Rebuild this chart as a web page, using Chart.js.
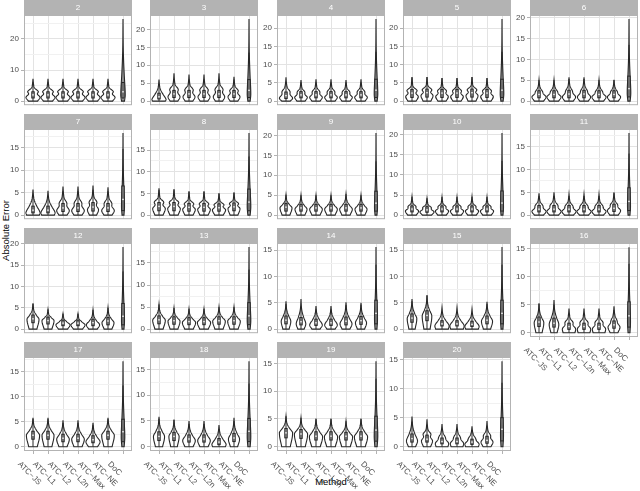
<!DOCTYPE html>
<html>
<head>
<meta charset="utf-8">
<script src="https://cdn.jsdelivr.net/npm/chart.js@4/dist/chart.umd.min.js"></script>
<style>
  body { margin: 0; background: #fff; }
  #wrap { position: relative; width: 640px; height: 491px; overflow: hidden; font-family: 'Liberation Sans', Arial, sans-serif; }
  #wrap canvas { position: absolute; }
  .ttl { position: absolute; font-size: 9.5px; line-height: 11px; color: #000; white-space: nowrap; }
</style>
</head>
<body>
<div id="wrap">
  <div class="ttl" style="left:301px;top:476px;width:60px;text-align:center;">Method</div>
  <div class="ttl" style="left:-35px;top:225px;width:80px;text-align:center;transform:rotate(-90deg);">Absolute Error</div>
</div>
<script>
// facets and methods
var panelIds = ['2', '3', '4', '5', '6', '7', '8', '9', '10', '11', '12', '13', '14', '15', '16', '17', '18', '19', '20'];
var methods = ['ATC\u2212JS', 'ATC\u2212L1', 'ATC\u2212L2', 'ATC\u2212L2n', 'ATC\u2212Max', 'ATC\u2212NE', 'DoC'];

// top of each violin (max abs error), one row per facet
var tops = [
  [7.2, 7.2, 7.2, 7.2, 7.2, 7.2, 26.4],
  [6.0, 7.8, 7.4, 7.4, 7.8, 6.8, 22.9],
  [6.5, 5.8, 6.0, 6.0, 5.8, 6.0, 22.5],
  [6.6, 6.6, 6.3, 6.3, 6.6, 6.3, 22.5],
  [5.1, 5.1, 5.7, 5.7, 5.1, 5.1, 19.7],
  [5.7, 5.4, 6.4, 6.4, 6.6, 6.2, 18.3],
  [6.2, 6.0, 5.5, 5.5, 5.0, 5.2, 18.9],
  [5.1, 5.0, 5.0, 5.0, 5.3, 5.0, 20.6],
  [4.6, 4.2, 4.5, 4.5, 4.6, 4.5, 20.4],
  [4.8, 5.0, 4.6, 4.6, 4.6, 5.0, 18.0],
  [6.0, 4.6, 3.6, 3.6, 4.5, 5.0, 19.2],
  [5.6, 4.8, 4.6, 4.6, 5.0, 5.0, 18.6],
  [5.3, 5.7, 4.4, 4.4, 5.1, 5.0, 15.6],
  [5.7, 6.5, 4.1, 4.1, 3.8, 5.2, 15.6],
  [5.2, 5.8, 4.3, 4.3, 4.3, 4.7, 15.2],
  [5.8, 5.8, 5.3, 5.3, 4.8, 5.8, 17.1],
  [5.8, 5.3, 5.0, 5.0, 4.2, 5.6, 16.6],
  [5.5, 5.2, 5.1, 5.1, 4.6, 5.1, 15.4],
  [5.2, 4.7, 3.9, 3.9, 3.5, 4.4, 14.7]
];

// where each violin is widest
var modes = [
  [1.2, 1.2, 1.2, 1.2, 1.2, 1.2, 2.0],
  [0.5, 1.2, 1.2, 1.2, 1.2, 1.2, 2.0],
  [0.8, 1.0, 1.0, 1.0, 1.0, 1.0, 2.0],
  [1.2, 1.5, 1.2, 1.2, 1.5, 1.2, 2.0],
  [1.0, 1.0, 1.0, 1.0, 1.0, 1.0, 2.0],
  [0.6, 0.6, 1.0, 1.0, 1.2, 1.0, 2.0],
  [1.5, 1.5, 1.3, 1.3, 1.2, 1.5, 2.0],
  [1.8, 1.5, 1.5, 1.5, 1.5, 1.5, 2.0],
  [1.0, 0.8, 1.0, 1.0, 1.0, 1.0, 2.0],
  [0.8, 0.8, 0.8, 0.8, 0.8, 1.0, 2.0],
  [2.3, 2.0, 1.0, 1.0, 1.0, 1.5, 2.0],
  [2.0, 1.8, 1.5, 1.5, 1.8, 1.8, 2.0],
  [1.5, 1.0, 0.8, 0.8, 1.0, 1.2, 2.0],
  [2.0, 2.5, 0.7, 0.7, 0.6, 1.5, 2.0],
  [1.8, 1.5, 0.7, 0.7, 0.7, 1.0, 2.0],
  [2.3, 2.3, 1.5, 1.5, 1.0, 2.3, 2.0],
  [2.0, 2.0, 1.2, 1.2, 0.5, 1.5, 2.0],
  [2.5, 2.3, 1.8, 1.8, 1.8, 1.8, 2.0],
  [1.0, 1.0, 0.6, 0.6, 0.5, 0.8, 2.0]
];

// half width at the widest point, in category units
var halfWidths = [
  [0.47, 0.47, 0.47, 0.47, 0.47, 0.47, 0.15],
  [0.47, 0.4, 0.4, 0.4, 0.38, 0.4, 0.12],
  [0.44, 0.42, 0.42, 0.42, 0.42, 0.42, 0.12],
  [0.42, 0.4, 0.42, 0.42, 0.4, 0.42, 0.12],
  [0.47, 0.47, 0.44, 0.44, 0.47, 0.44, 0.12],
  [0.47, 0.47, 0.42, 0.42, 0.37, 0.42, 0.10],
  [0.42, 0.42, 0.42, 0.42, 0.44, 0.4, 0.12],
  [0.4, 0.4, 0.42, 0.42, 0.42, 0.4, 0.10],
  [0.44, 0.47, 0.44, 0.44, 0.44, 0.44, 0.10],
  [0.47, 0.47, 0.47, 0.47, 0.47, 0.44, 0.10],
  [0.4, 0.4, 0.47, 0.47, 0.44, 0.4, 0.10],
  [0.42, 0.4, 0.44, 0.44, 0.42, 0.42, 0.12],
  [0.32, 0.32, 0.42, 0.42, 0.4, 0.37, 0.10],
  [0.32, 0.32, 0.47, 0.47, 0.47, 0.37, 0.10],
  [0.32, 0.32, 0.44, 0.44, 0.44, 0.4, 0.10],
  [0.44, 0.4, 0.42, 0.42, 0.47, 0.42, 0.12],
  [0.37, 0.34, 0.42, 0.42, 0.47, 0.37, 0.12],
  [0.44, 0.44, 0.44, 0.44, 0.44, 0.44, 0.12],
  [0.37, 0.37, 0.44, 0.44, 0.47, 0.4, 0.10]
];

// relative width of the second bulge (0 = none)
var shoulders = [
  [0.75, 0.75, 0.75, 0.75, 0.75, 0.75, 0],
  [0, 0.7, 0.7, 0.7, 0.7, 0.7, 0],
  [0.6, 0.6, 0.6, 0.6, 0.6, 0.6, 0],
  [0.8, 0.8, 0.7, 0.7, 0.8, 0.7, 0],
  [0.5, 0.5, 0.5, 0.5, 0.5, 0.5, 0],
  [0, 0, 0.6, 0.6, 0.7, 0.6, 0],
  [0.75, 0.75, 0.75, 0.75, 0.75, 0.75, 0],
  [0, 0, 0, 0, 0, 0, 0],
  [0.6, 0.6, 0.6, 0.6, 0.6, 0.6, 0],
  [0.55, 0.55, 0.55, 0.55, 0.55, 0.55, 0],
  [0, 0, 0, 0, 0, 0, 0],
  [0, 0, 0, 0, 0, 0, 0],
  [0, 0, 0, 0, 0, 0, 0],
  [0, 0, 0, 0, 0, 0, 0],
  [0, 0, 0.6, 0.6, 0.6, 0.5, 0],
  [0, 0, 0, 0, 0, 0, 0],
  [0, 0, 0, 0, 0, 0, 0],
  [0, 0, 0, 0, 0, 0, 0],
  [0, 0.7, 0.5, 0.5, 0.5, 0.6, 0]
];

// box plot quartiles
var lowerQ = [
  [1.0, 1.0, 1.0, 1.0, 1.0, 1.0, 1.0],
  [0.6, 1.0, 1.0, 1.0, 1.0, 1.0, 1.0],
  [0.7, 0.9, 0.9, 0.9, 0.9, 0.9, 1.0],
  [1.0, 1.1, 1.0, 1.0, 1.1, 1.0, 1.0],
  [0.8, 0.8, 0.8, 0.8, 0.8, 0.8, 1.0],
  [0.5, 0.5, 0.8, 0.8, 0.9, 0.8, 1.0],
  [1.0, 1.0, 0.9, 0.9, 0.9, 1.0, 1.0],
  [1.0, 1.0, 1.0, 1.0, 1.0, 1.0, 1.0],
  [0.8, 0.7, 0.8, 0.8, 0.8, 0.8, 1.0],
  [0.7, 0.7, 0.7, 0.7, 0.7, 0.8, 1.0],
  [1.5, 1.2, 0.8, 0.8, 0.8, 1.0, 1.0],
  [1.2, 1.1, 1.0, 1.0, 1.1, 1.1, 1.0],
  [1.0, 0.8, 0.7, 0.7, 0.8, 0.9, 1.0],
  [1.3, 1.6, 0.6, 0.6, 0.5, 1.0, 1.0],
  [1.1, 1.0, 0.6, 0.6, 0.6, 0.8, 1.0],
  [1.5, 1.5, 1.0, 1.0, 0.8, 1.5, 1.0],
  [1.2, 1.2, 0.9, 0.9, 0.4, 1.0, 1.0],
  [1.6, 1.5, 1.2, 1.2, 1.2, 1.2, 1.0],
  [0.8, 0.8, 0.5, 0.5, 0.4, 0.6, 1.0]
];
var medians = [
  [2.0, 2.0, 2.0, 2.0, 2.0, 2.0, 3.0],
  [1.2, 2.0, 2.0, 2.0, 2.0, 2.0, 3.0],
  [1.5, 1.7, 1.7, 1.7, 1.7, 1.7, 3.0],
  [2.2, 2.3, 2.2, 2.2, 2.3, 2.2, 3.0],
  [1.6, 1.6, 1.7, 1.7, 1.6, 1.6, 3.0],
  [1.1, 1.1, 1.6, 1.6, 1.8, 1.6, 3.5],
  [2.0, 2.0, 1.8, 1.8, 1.7, 1.9, 3.0],
  [2.0, 1.8, 1.8, 1.8, 1.8, 1.8, 3.0],
  [1.5, 1.3, 1.5, 1.5, 1.5, 1.5, 3.0],
  [1.3, 1.3, 1.3, 1.3, 1.3, 1.5, 3.0],
  [2.4, 2.0, 1.4, 1.4, 1.5, 1.9, 3.0],
  [2.1, 1.9, 1.7, 1.7, 1.9, 1.9, 3.0],
  [1.7, 1.4, 1.2, 1.2, 1.5, 1.6, 3.0],
  [2.1, 2.6, 1.0, 1.0, 0.9, 1.7, 3.0],
  [1.9, 1.7, 1.1, 1.1, 1.1, 1.4, 3.0],
  [2.3, 2.3, 1.7, 1.7, 1.4, 2.3, 3.0],
  [2.0, 2.0, 1.5, 1.5, 0.9, 1.7, 3.0],
  [2.5, 2.3, 1.9, 1.9, 1.9, 1.9, 3.0],
  [1.4, 1.3, 0.9, 0.9, 0.8, 1.1, 3.0]
];
var upperQ = [
  [3.0, 3.0, 3.0, 3.0, 3.0, 3.0, 6.0],
  [2.2, 3.0, 3.0, 3.0, 3.0, 3.0, 6.0],
  [2.5, 2.6, 2.6, 2.6, 2.6, 2.6, 6.0],
  [3.2, 3.3, 3.2, 3.2, 3.3, 3.2, 6.0],
  [2.5, 2.5, 2.6, 2.6, 2.5, 2.5, 6.0],
  [2.0, 2.0, 2.6, 2.6, 2.8, 2.6, 6.5],
  [2.9, 2.9, 2.7, 2.7, 2.6, 2.8, 6.0],
  [2.9, 2.7, 2.7, 2.7, 2.7, 2.7, 6.0],
  [2.3, 2.1, 2.3, 2.3, 2.3, 2.3, 6.0],
  [2.1, 2.1, 2.1, 2.1, 2.1, 2.4, 6.0],
  [3.3, 2.8, 2.1, 2.1, 2.3, 2.7, 6.0],
  [3.0, 2.8, 2.6, 2.6, 2.8, 2.8, 6.0],
  [2.5, 2.2, 1.9, 1.9, 2.3, 2.4, 5.5],
  [2.9, 3.5, 1.6, 1.6, 1.5, 2.5, 5.5],
  [2.8, 2.6, 1.7, 1.7, 1.7, 2.1, 5.5],
  [3.1, 3.1, 2.5, 2.5, 2.2, 3.1, 5.5],
  [2.9, 2.8, 2.3, 2.3, 1.6, 2.6, 5.5],
  [3.3, 3.1, 2.7, 2.7, 2.6, 2.7, 5.5],
  [2.2, 2.0, 1.5, 1.5, 1.3, 1.8, 5.0]
];

var colLeft = [24, 150, 277, 403, 530];
var rowTop = [0, 114, 228, 342];
var panelW = 108;

function violinKnots(top, mode, w, shoulder) {
  var base = mode < 0.8 ? 0.9 : 0.65;
  var d = top - mode;
  var k = [[0, w * base], [mode, w]];
  if (shoulder > 0) {
    k.push([mode + 0.18 * d, 0.62 * w], [mode + 0.32 * d, shoulder * w], [mode + 0.5 * d, 0.22 * w], [mode + 0.7 * d, 0.08 * w]);
  } else {
    k.push([mode + 0.25 * d, 0.58 * w], [mode + 0.45 * d, 0.27 * w], [mode + 0.65 * d, 0.1 * w]);
  }
  k.push([top, 0]);
  return k;
}

// smooth the knots (cubic hermite) into an outline
function profile(k) {
  var pts = [];
  for (var i = 0; i < k.length - 1; i++) {
    var p0 = k[Math.max(i - 1, 0)], p1 = k[i], p2 = k[i + 1], p3 = k[Math.min(i + 2, k.length - 1)];
    var dy = p2[0] - p1[0];
    var m1 = (p2[1] - p0[1]) / (p2[0] - p0[0]) * dy;
    var m2 = (p3[1] - p1[1]) / (p3[0] - p1[0]) * dy;
    for (var s = 0; s < 8; s++) {
      var t = s / 8, t2 = t * t, t3 = t2 * t;
      var h = (2 * t3 - 3 * t2 + 1) * p1[1] + (t3 - 2 * t2 + t) * m1 + (-2 * t3 + 3 * t2) * p2[1] + (t3 - t2) * m2;
      pts.push([p1[0] + t * dy, Math.max(h, 0)]);
    }
  }
  pts.push(k[k.length - 1]);
  return pts;
}

var facetPlugin = {
  id: 'facet',
  afterDatasetsDraw: function (chart, args, opts) {
    var p = opts.panel;
    var ctx = chart.ctx, area = chart.chartArea;
    var xs = chart.scales.x, ys = chart.scales.y;
    var unit = xs.getPixelForValue(2) - xs.getPixelForValue(1);
    var pts = chart.data.datasets[0].data;

    ctx.save();
    for (var j = 0; j < pts.length; j++) {
      var xc = xs.getPixelForValue(pts[j].x);
      var outline = profile(violinKnots(pts[j].y, modes[p][j], halfWidths[p][j], shoulders[p][j]));
      ctx.beginPath();
      outline.forEach(function (q, n) {
        var px = xc + q[1] * unit, py = ys.getPixelForValue(q[0]);
        if (n === 0) ctx.moveTo(px, py); else ctx.lineTo(px, py);
      });
      for (var n = outline.length - 1; n >= 0; n--) {
        ctx.lineTo(xc - outline[n][1] * unit, ys.getPixelForValue(outline[n][0]));
      }
      ctx.closePath();
      ctx.fillStyle = '#fff';
      ctx.fill();
      ctx.lineWidth = 1.1;
      ctx.strokeStyle = '#262626';
      ctx.stroke();

      // box plot inside
      var q1 = lowerQ[p][j], q2 = medians[p][j], q3 = upperQ[p][j];
      var wTop = Math.min(pts[j].y, q3 + 1.5 * (q3 - q1));
      ctx.lineWidth = 1;
      ctx.beginPath();
      ctx.moveTo(xc, ys.getPixelForValue(0));
      ctx.lineTo(xc, ys.getPixelForValue(wTop));
      ctx.stroke();
      var bw = 0.08 * unit;
      ctx.fillStyle = '#8a8a8a';
      ctx.fillRect(xc - bw, ys.getPixelForValue(q3), 2 * bw, ys.getPixelForValue(q1) - ys.getPixelForValue(q3));
      ctx.strokeRect(xc - bw, ys.getPixelForValue(q3), 2 * bw, ys.getPixelForValue(q1) - ys.getPixelForValue(q3));
      ctx.fillStyle = '#fff';
      ctx.fillRect(xc - 0.7, ys.getPixelForValue(q2) - 0.7, 1.4, 1.4);
    }

    // panel border and strip
    ctx.strokeStyle = '#b3b3b3';
    ctx.lineWidth = 1;
    ctx.strokeRect(area.left + 0.5, area.top + 0.5, area.right - area.left - 1, area.bottom - area.top - 1);
    ctx.fillStyle = '#b3b3b3';
    ctx.fillRect(area.left, area.top - 15, area.right - area.left, 15);
    ctx.fillStyle = '#fff';
    ctx.font = '8px "Liberation Sans", Arial, sans-serif';
    ctx.textAlign = 'center';
    ctx.textBaseline = 'middle';
    ctx.fillText(panelIds[p], (area.left + area.right) / 2, area.top - 7.5);

    // rotated method labels
    if (opts.labels) {
      ctx.fillStyle = '#4d4d4d';
      ctx.textAlign = 'left';
      for (var m = 0; m < methods.length; m++) {
        ctx.save();
        ctx.translate(xs.getPixelForValue(m + 1) - 14, area.bottom + 12);
        ctx.rotate(Math.PI / 4);
        ctx.fillText(methods[m], 0, 0);
        ctx.restore();
      }
    }
    ctx.restore();
  }
};

var wrap = document.getElementById('wrap');

panelIds.forEach(function (id, p) {
  var col = p % 5, row = Math.floor(p / 5);
  var withLabels = row === 3 || p === 14;
  var top = tops[p];
  var big = Math.max.apply(null, top);
  var major = big > 25 ? 10 : 5;
  var minor = major / 2;
  var yMin = -0.05 * big, yMax = big * 1.05;

  var canvas = document.createElement('canvas');
  canvas.width = 24 + panelW + 2;
  canvas.height = withLabels ? 150 : 112;
  canvas.style.left = (colLeft[col] - 24) + 'px';
  canvas.style.top = rowTop[row] + 'px';
  wrap.appendChild(canvas);

  new Chart(canvas.getContext('2d'), {
    type: 'scatter',
    data: {
      datasets: [{
        data: top.map(function (v, j) { return { x: j + 1, y: v }; }),
        pointRadius: 0,
        showLine: false
      }]
    },
    options: {
      responsive: false,
      animation: false,
      events: [],
      layout: { padding: { top: 15, right: 2, left: 0, bottom: 0 } },
      plugins: {
        legend: { display: false },
        tooltip: { enabled: false },
        facet: { panel: p, labels: withLabels }
      },
      scales: {
        x: {
          type: 'linear',
          min: 0.4,
          max: 7.6,
          afterBuildTicks: function (s) {
            s.ticks = methods.map(function (m, j) { return { value: j + 1 }; });
          },
          afterFit: function (s) { s.height = withLabels ? 41 : 3; },
          ticks: { display: false },
          border: { display: false },
          grid: { color: '#e3e3e3', lineWidth: 1, drawTicks: withLabels, tickLength: 3, tickColor: '#b3b3b3' }
        },
        y: {
          type: 'linear',
          min: yMin,
          max: yMax,
          afterBuildTicks: function (s) {
            var t = [];
            for (var v = 0; v <= yMax + 1e-9; v += minor) t.push({ value: v });
            s.ticks = t;
          },
          afterFit: function (s) { s.width = 24; },
          border: { display: false },
          ticks: {
            padding: 2,
            color: '#4d4d4d',
            font: { family: 'Liberation Sans', size: 8 },
            callback: function (v) { return (v % major === 0) ? String(v) : ''; }
          },
          grid: {
            color: function (c) { return c.tick && c.tick.value % major === 0 ? '#e3e3e3' : '#f1f1f1'; },
            lineWidth: 1,
            drawTicks: true,
            tickLength: 3,
            tickColor: function (c) { return c.tick && c.tick.value % major === 0 ? '#b3b3b3' : 'rgba(0,0,0,0)'; }
          }
        }
      }
    },
    plugins: [facetPlugin]
  });
});
</script>
</body>
</html>
